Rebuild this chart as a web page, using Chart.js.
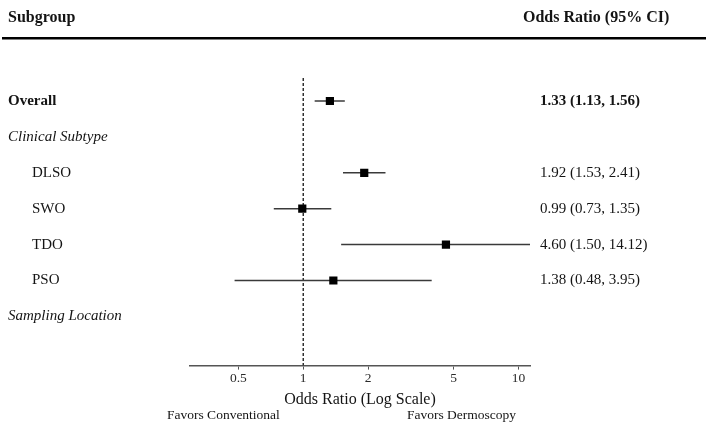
<!DOCTYPE html>
<html>
<head>
<meta charset="utf-8">
<script src="https://cdn.jsdelivr.net/npm/chart.js@4.4.1/dist/chart.umd.min.js"></script>
<style>
  body { margin: 0; background: #fff; }
  #wrap { width: 708px; height: 426px; position: relative; }
</style>
</head>
<body>
<div id="wrap"><canvas id="forestChart"></canvas></div>
<script>
// rows of the forest plot, top to bottom
var rowLabels = ['Overall', 'Clinical Subtype', 'DLSO', 'SWO', 'TDO', 'PSO', 'Sampling Location'];
var rowKinds = ['total', 'section', 'item', 'item', 'item', 'item', 'section'];
var oddsRatio = [1.33, null, 1.92, 0.99, 4.60, 1.38, null];
var ciLower = [1.13, null, 1.53, 0.73, 1.50, 0.48, null];
var ciUpper = [1.56, null, 2.41, 1.35, 14.12, 3.95, null];
var xTicks = [0.5, 1, 2, 5, 10];

var SERIF = '"Liberation Serif", "Times New Roman", serif';
var TEXT = '#141414';
var yMin = -0.64, yMax = 7.37;

Chart.defaults.font.family = SERIF;
Chart.defaults.color = TEXT;

var squares = [];
var datasets = [];
for (var i = 0; i < rowLabels.length; i++) {
    if (oddsRatio[i] == null) continue;
    squares.push({ x: oddsRatio[i], y: i });
}
// squares first so they sit on top
datasets.push({
    data: squares,
    pointStyle: 'rect',
    pointRadius: 5.8,
    backgroundColor: '#000',
    borderWidth: 0,
    showLine: false
});
for (var j = 0; j < rowLabels.length; j++) {
    if (oddsRatio[j] == null) continue;
    datasets.push({
        data: [{ x: ciLower[j], y: j }, { x: ciUpper[j], y: j }],
        showLine: true,
        borderColor: '#3a3a3a',
        borderWidth: 1.5,
        pointRadius: 0
    });
}
// line of no effect
datasets.push({
    data: [{ x: 1, y: yMin }, { x: 1, y: yMax }],
    showLine: true,
    borderColor: '#111',
    borderWidth: 1.3,
    borderDash: [3, 2],
    pointRadius: 0
});

var textPlugin = {
    id: 'forestText',
    afterDraw: function(chart) {
        var ctx = chart.ctx;
        var y = chart.scales.y;
        ctx.save();
        ctx.fillStyle = TEXT;
        ctx.textBaseline = 'middle';
        ctx.textAlign = 'left';

        // header
        ctx.font = 'bold 16px ' + SERIF;
        ctx.fillText('Subgroup', 8, 18);
        ctx.fillText('Odds Ratio (95% CI)', 523, 18);
        ctx.fillStyle = '#000';
        ctx.fillRect(2, 37, 704, 2.5);
        ctx.fillStyle = TEXT;

        for (var i = 0; i < rowLabels.length; i++) {
            var py = y.getPixelForValue(i);
            var kind = rowKinds[i];
            if (kind == 'total') ctx.font = 'bold 15px ' + SERIF;
            else if (kind == 'section') ctx.font = 'italic 15px ' + SERIF;
            else ctx.font = '15px ' + SERIF;
            ctx.fillText(rowLabels[i], kind == 'item' ? 32 : 8, py);
            if (oddsRatio[i] != null) {
                var s = oddsRatio[i].toFixed(2) + ' (' + ciLower[i].toFixed(2) + ', ' + ciUpper[i].toFixed(2) + ')';
                ctx.fillText(s, 540, py);
            }
        }

        ctx.font = '13.5px ' + SERIF;
        ctx.fillText('Favors Conventional', 167, 415);
        ctx.fillText('Favors Dermoscopy', 407, 415);
        ctx.restore();
    }
};

new Chart(document.getElementById('forestChart').getContext('2d'), {
    type: 'scatter',
    data: { datasets: datasets },
    options: {
        responsive: true,
        maintainAspectRatio: false,
        animation: false,
        layout: { padding: { left: 190, right: 178, top: 78, bottom: 17 } },
        plugins: {
            legend: { display: false },
            tooltip: { enabled: false }
        },
        scales: {
            x: {
                type: 'logarithmic',
                min: 0.298,
                max: 11.3,
                afterBuildTicks: function(scale) {
                    scale.ticks = xTicks.map(function(v) { return { value: v }; });
                },
                ticks: {
                    autoSkip: false,
                    maxRotation: 0,
                    padding: 1,
                    color: '#2a2a2a',
                    font: { size: 13.5 },
                    callback: function(v) { return String(v); }
                },
                grid: {
                    display: true,
                    drawOnChartArea: false,
                    drawTicks: true,
                    tickLength: 4,
                    color: '#555'
                },
                border: { display: true, color: '#555', width: 1.6 },
                title: {
                    display: true,
                    text: 'Odds Ratio (Log Scale)',
                    color: TEXT,
                    font: { size: 16 },
                    padding: { top: 2, bottom: 0 }
                }
            },
            y: {
                type: 'linear',
                display: false,
                reverse: true,
                min: yMin,
                max: yMax
            }
        }
    },
    plugins: [textPlugin]
});
</script>
</body>
</html>
